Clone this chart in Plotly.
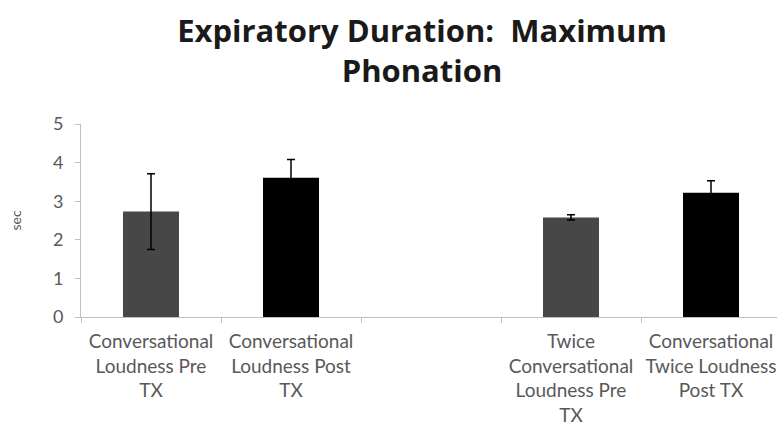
import plotly.graph_objects as go

categories = [
    "Conversational<br>Loudness Pre<br>TX",
    "Conversational<br>Loudness Post<br>TX",
    " ",
    "Twice<br>Conversational<br>Loudness Pre<br>TX",
    "Conversational<br>Twice Loudness<br>Post TX",
]
values = [2.73, 3.61, None, 2.58, 3.22]
errors = [0.98, 0.47, None, 0.07, 0.31]
y_ticks = [0, 1, 2, 3, 4, 5]

bar_colors = ["#474747", "#000000", "#000000", "#474747", "#000000"]

fig = go.Figure()
fig.add_trace(go.Bar(
    x=categories,
    y=values,
    marker=dict(color=bar_colors, line=dict(width=0)),
    error_y=dict(type="data", array=errors, visible=True,
                 color="#000000", thickness=1.5, width=4),
    showlegend=False,
))

font_family = "Lato, 'Open Sans', sans-serif"
fig.update_layout(
    width=777, height=430,
    margin=dict(l=81, r=0, t=124, b=113, autoexpand=False),
    paper_bgcolor="white", plot_bgcolor="white",
    bargap=0.6,
    title=dict(
        text="<b>Expiratory Duration:\u00a0 Maximum<br>Phonation</b>",
        x=422/777, xanchor="center", xref="container",
        y=1 - 42/430, yanchor="top", yref="container",
        font=dict(family="'Open Sans', sans-serif", size=31, color="#1a1a1a"),
    ),
    font=dict(family=font_family, color="#595959"),
)
fig.update_xaxes(
    type="category", automargin=False,
    categoryorder="array", categoryarray=categories,
    range=[-0.5, -0.5 + 696/140],
    tickson="boundaries", ticks="outside", ticklen=5, tickcolor="#bfbfbf",
    showline=True, linecolor="#bfbfbf", linewidth=1,
    showgrid=False, zeroline=False,
    tickfont=dict(size=19, color="#595959", family=font_family),
    ticklabelstandoff=7,
    tickangle=0,
)
fig.update_yaxes(
    range=[0, 5], tickvals=y_ticks, automargin=False,
    ticks="outside", ticklen=5, tickcolor="#bfbfbf",
    showline=True, linecolor="#bfbfbf", linewidth=1,
    showgrid=False, zeroline=False,
    tickfont=dict(size=18, color="#595959", family=font_family),
    ticklabelstandoff=8,
    title=dict(text="sec", font=dict(size=14, color="#595959", family=font_family), standoff=28),
)

fig.write_html("out.html", config={"displayModeBar": False},
               post_script="document.body.style.margin='0';")
